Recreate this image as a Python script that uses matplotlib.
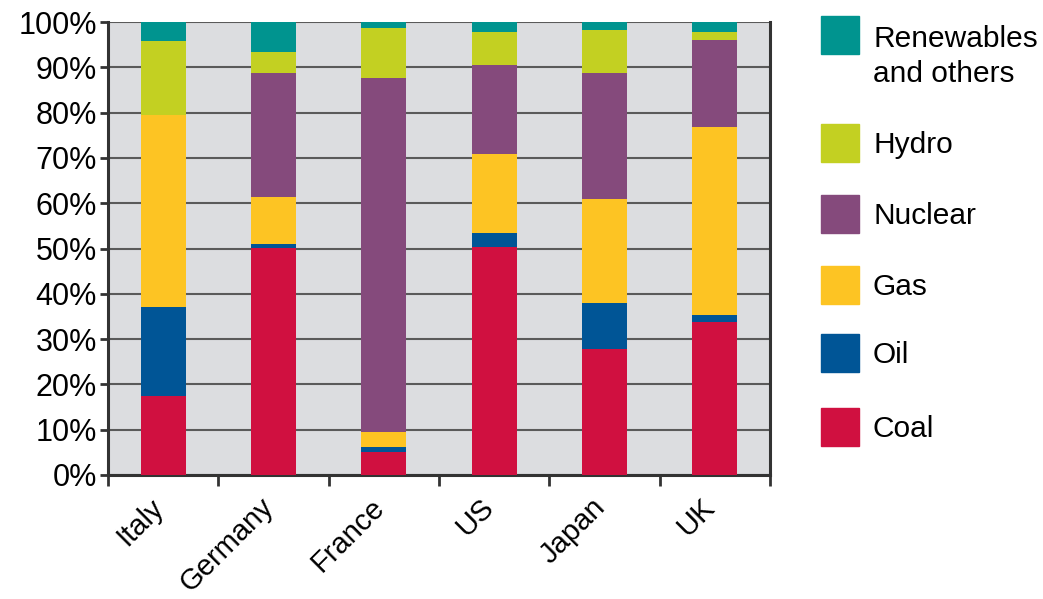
import matplotlib
matplotlib.use("Agg")
import matplotlib.pyplot as plt
from matplotlib.patches import Rectangle
from matplotlib.transforms import ScaledTranslation, blended_transform_factory
import numpy as np

plt.rcParams['font.family'] = ['Liberation Sans', 'DejaVu Sans']

countries = ["Italy", "Germany", "France", "US", "Japan", "UK"]
coal = [17.5, 50.1, 5.1, 50.4, 27.9, 33.7]
oil = [19.6, 0.9, 1.1, 3.0, 10.1, 1.6]
gas = [42.3, 10.4, 3.2, 17.4, 23.0, 41.6]
nuclear = [0.0, 27.4, 78.3, 19.7, 27.8, 19.2]
hydro = [16.3, 4.5, 11.0, 7.3, 9.5, 1.8]
renewables = [4.3, 6.7, 1.3, 2.1, 1.7, 2.1]

series = [
    ("Coal", coal, "#d01040"),
    ("Oil", oil, "#005596"),
    ("Gas", gas, "#fdc423"),
    ("Nuclear", nuclear, "#854a7c"),
    ("Hydro", hydro, "#c3d022"),
    ("Renewables\nand others", renewables, "#00948f"),
]

W, H = 1043, 599
fig = plt.figure(figsize=(W / 100, H / 100), dpi=100)
ax = fig.add_axes([108 / W, 1 - 475 / H, 662 / W, 453 / H])
ax.set_facecolor("#dcdde0")

x = np.arange(len(countries))
bottom = np.zeros(len(countries))
for name, vals, col in series:
    ax.bar(x, vals, bottom=bottom, width=0.41, color=col, label=name, zorder=3)
    bottom += np.array(vals)

ax.set_xlim(-0.5, len(countries) - 0.5)
ax.set_ylim(0, 100)
ax.set_yticks(np.arange(0, 101, 10))
ax.set_yticklabels([f"{v}%" for v in range(0, 101, 10)], fontsize=22)
ax.yaxis.grid(True, color="#5a5a5a", linewidth=1.5, zorder=1)
ax.set_axisbelow(True)

# category labels (rotated), placed under each bar
ax.set_xticks(x)
ax.set_xticklabels([])
trans = blended_transform_factory(ax.transData, ax.transAxes) + \
    ScaledTranslation(-14 / 100, -18 / 100, fig.dpi_scale_trans)
for xi, name in zip(x, countries):
    ax.text(xi, 0, name, transform=trans, fontsize=21, rotation=45,
            ha="right", va="top", rotation_mode="anchor")
ax.set_xticks(np.arange(-0.5, len(countries)), minor=True)
ax.tick_params(axis="x", which="major", length=0)
ax.tick_params(axis="x", which="minor", length=8, width=2, color="#333333", direction="out")
ax.tick_params(axis="y", length=6, width=2, color="#333333", direction="out", pad=2)

for s in ["left", "bottom", "right"]:
    ax.spines[s].set_color("#333333")
    ax.spines[s].set_linewidth(2.2)
ax.spines["top"].set_visible(False)

# Legend (drawn manually to match the reference layout)
legend_tops = [16, 124, 195, 266, 334, 408]  # pixel tops of swatches, top to bottom
legend_items = series[::-1]
for (name, vals, col), top in zip(legend_items, legend_tops):
    fig.patches.append(Rectangle((821 / W, 1 - (top + 38) / H), 38 / W, 38 / H,
                                 transform=fig.transFigure, color=col))
    if "\n" in name:
        fig.text(873 / W, 1 - (top + 9) / H, name, fontsize=21.5, ha="left",
                 va="top", linespacing=1.3)
    else:
        fig.text(873 / W, 1 - (top + 21) / H, name, fontsize=21.5, ha="left",
                 va="center")

fig.savefig("out.png", dpi=100)
